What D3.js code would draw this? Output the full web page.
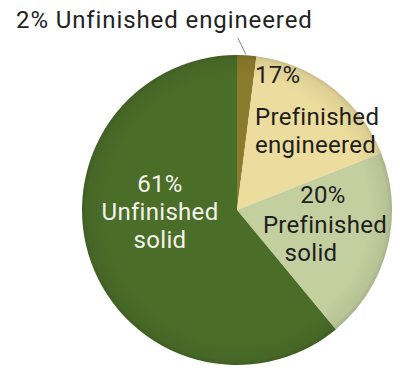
<!DOCTYPE html>
<html>
<head>
<meta charset="utf-8">
<script src="https://cdn.jsdelivr.net/npm/d3@7"></script>
<style>
  body { margin: 0; background: #fff; }
  svg { display: block; font-family: Roboto, "Liberation Sans", sans-serif; }
</style>
</head>
<body>
<div id="chart"></div>
<script>
// data
var categories = ["Unfinished engineered", "Prefinished engineered", "Prefinished solid", "Unfinished solid"];
var shares = [2, 17, 20, 61];
var labelLines = [
  ["2% Unfinished engineered"],
  ["17%", "Prefinished", "engineered"],
  ["20%", "Prefinished", "solid"],
  ["61%", "Unfinished", "solid"]
];
var colors = ["#8b7b2c", "#ecdc9d", "#c3cf9f", "#4a6d28"];
var textColors = ["#222", "#1e1e1e", "#1e1e1e", "#f4f4ec"];

(function() {
  var width = 400,
    height = 374;

  var cx = 237, cy = 210, radius = 155;

  var svg = d3.select("#chart")
    .append("svg")
    .attr("width", width)
    .attr("height", height);

  var defs = svg.append("defs");
  var grad = defs.append("radialGradient")
    .attr("id", "edge-shade")
    .attr("cx", "50%").attr("cy", "50%").attr("r", "50%");
  grad.append("stop").attr("offset", "0.85").attr("stop-color", "#000").attr("stop-opacity", 0);
  grad.append("stop").attr("offset", "0.97").attr("stop-color", "#000").attr("stop-opacity", 0.06);
  grad.append("stop").attr("offset", "1").attr("stop-color", "#000").attr("stop-opacity", 0.14);

  var g = svg.append("g")
    .attr("transform", "translate(" + cx + "," + cy + ")");

  var pie = d3.pie().sort(null).value(function(d) { return d; });
  var arc = d3.arc().innerRadius(0).outerRadius(radius);
  var arcs = pie(shares);

  g.selectAll(".slice")
    .data(arcs)
    .enter().append("path")
    .attr("class", "slice")
    .attr("d", arc)
    .attr("fill", function(d, i) { return colors[i]; });

  g.append("circle")
    .attr("r", radius)
    .attr("fill", "url(#edge-shade)");

  // label placement (relative to pie centre)
  var labelLayout = [
    { x: -221, y: -182, anchor: "start", ls: 0.9 },
    { x: 18, y: -127, anchor: "start", dys: [0, 42, 28] },
    { x: 86, y: -7, anchor: "middle", dxs: [0, 2, -12], dys: [0, 30, 28] },
    { x: -77, y: -18, anchor: "middle" }
  ];

  // leader line for the small slice
  var a0 = arcs[0];
  var inner = d3.arc().innerRadius(radius + 2).outerRadius(radius + 2).centroid(a0);
  g.append("line")
    .attr("x1", inner[0] - 1).attr("y1", inner[1] + 1)
    .attr("x2", inner[0] - 9).attr("y2", -radius - 17)
    .attr("stroke", "#666")
    .attr("stroke-width", 0.8);

  labelLines.forEach(function(lines, i) {
    var L = labelLayout[i];
    var t = g.append("text")
      .attr("text-anchor", L.anchor)
      .attr("fill", textColors[i])
      .style("font-size", "24px")
      .style("letter-spacing", (L.ls || 0.3) + "px");
    var y = L.y;
    lines.forEach(function(line, j) {
      if (j > 0) y += L.dys ? L.dys[j] : 28;
      t.append("tspan")
        .attr("x", L.x + (L.dxs ? L.dxs[j] : 0))
        .attr("y", y)
        .text(line);
    });
  });
})();
</script>
</body>
</html>
